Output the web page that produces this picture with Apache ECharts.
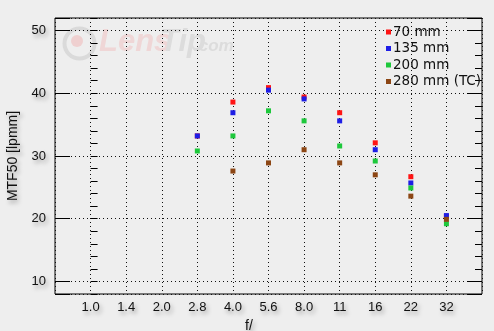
<!DOCTYPE html>
<html><head><meta charset="utf-8">
<script src="https://cdn.jsdelivr.net/npm/echarts@6/dist/echarts.min.js"></script>
<style>html,body{margin:0;padding:0;background:#eeeeee;}#c{width:494px;height:331px;}</style>
</head><body><div id="c"></div>
<script>
const fStops = ['1.0','1.4','2.0','2.8','4.0','5.6','8.0','11','16','22','32'];
const seriesNames = ['70 mm','135 mm','200 mm','280 mm (TC)'];
const mm70   = [null,null,null,33.2,38.6,40.9,39.4,36.9,32.1,26.7,20.4];
const mm135  = [null,null,null,33.2,36.9,40.5,39.1,35.6,31.0,25.7,20.5];
const mm200  = [null,null,null,30.8,33.2,37.2,35.6,31.6,29.2,24.9,19.2];
const mm280tc= [null,null,null,null,27.6,28.9,31.0,28.9,27.0,23.6,19.9];
const yTicks = [10,20,30,40,50];

const colors = ['#ff1414','#1e1ee6','#1ec83c','#8c4614'];
const allData = [mm70, mm135, mm200, mm280tc];

const shadow = {textShadowColor:'rgba(0,0,0,0.35)', textShadowBlur:4, textShadowOffsetX:2, textShadowOffsetY:3};
const labelFont = Object.assign({fontFamily:'Liberation Sans', fontSize:13, color:'#111'}, shadow);
const dotted = {color:'#111', width:1, type:[1,3]};

function toPts(arr){ const out=[]; arr.forEach((v,i)=>{ if(v!==null) out.push([i,v]); }); return out; }

const minorAxis = (pos)=>({
  type:'value', position:pos, min:8, max:52, interval:2,
  axisLine:{show:false},
  axisTick:{show:true, inside:true, length:7, lineStyle:{color:'#000', width:1}},
  axisLabel: pos==='left' ? Object.assign({show:true, margin:9, formatter:(v)=> yTicks.indexOf(v)>=0 ? String(v) : ''}, labelFont) : {show:false},
  splitLine:{show:false}
});
const majorAxis = (pos, grid)=>({
  type:'value', position:pos, min:8, max:52,
  axisLine:{show:false},
  axisTick:{show:true, inside:true, length:15, lineStyle:{color:'#000', width:1}},
  axisLabel:{show:false},
  splitLine:{show:grid, lineStyle:dotted}
});

const y0 = minorAxis('left');
y0.name = 'MTF50 [lpmm]';
y0.nameLocation = 'middle';
y0.nameGap = 29;
y0.nameTextStyle = Object.assign({fontFamily:'Liberation Sans', fontSize:14, color:'#111'}, shadow);

const option = {
  backgroundColor:'#eeeeee',
  animation:false,
  grid:{left:55, right:12, top:18, bottom:37, containLabel:false, outerBoundsMode:'none',
        show:true, borderColor:'#000', borderWidth:1, backgroundColor:'transparent'},
  graphic:[
    {type:'circle', left:62, top:26, shape:{r:15}, style:{fill:'none', stroke:'#dadada', lineWidth:4}, z:0},
    {type:'circle', left:71, top:35, shape:{r:6}, style:{fill:'#efd0d0'}, z:0},
    {type:'text', left:99, top:27, style:{text:'Lens', font:'italic bold 31px "Liberation Sans"', fill:'#efd6d6'}, z:0},
    {type:'text', left:160, top:27, style:{text:'Tip', font:'italic bold 31px "Liberation Sans"', fill:'#dcdcdc'}, z:0},
    {type:'text', left:194, top:38, style:{text:'.com', font:'italic bold 17px "Liberation Sans"', fill:'#dcdcdc'}, z:0}
  ],
  legend:{
    orient:'vertical', left:381, top:20, itemWidth:5, itemHeight:5, itemGap:2.5,
    icon:'rect', data:seriesNames,
    textStyle:{fontFamily:'DejaVu Sans', fontSize:13.5, color:'#111', lineHeight:13, padding:[0,0,0,-3]}
  },
  xAxis:{
    type:'value', min:-1, max:11, interval:1,
    name:'f/', nameLocation:'middle', nameGap:17,
    nameTextStyle:Object.assign({fontFamily:'Liberation Sans', fontSize:14, color:'#111', padding:[0,39,0,0]}, shadow),
    axisLine:{show:false}, axisTick:{show:false},
    axisLabel:Object.assign({margin:7, formatter:(v)=> (v>=0 && v<fStops.length) ? fStops[v] : ''}, labelFont),
    splitLine:{show:true, lineStyle:dotted}
  },
  yAxis:[y0, majorAxis('left', true), minorAxis('right'), majorAxis('right', false)],
  series: allData.map((arr,k)=>({
    type:'scatter', name:seriesNames[k], data:toPts(arr), symbol:'rect', symbolSize:5,
    itemStyle:{color:colors[k], opacity:1}, xAxisIndex:0, yAxisIndex:0, z:3+k
  }))
};
const chart = echarts.init(document.getElementById('c'), null, {renderer:'canvas'});
chart.setOption(option);
</script></body></html>
